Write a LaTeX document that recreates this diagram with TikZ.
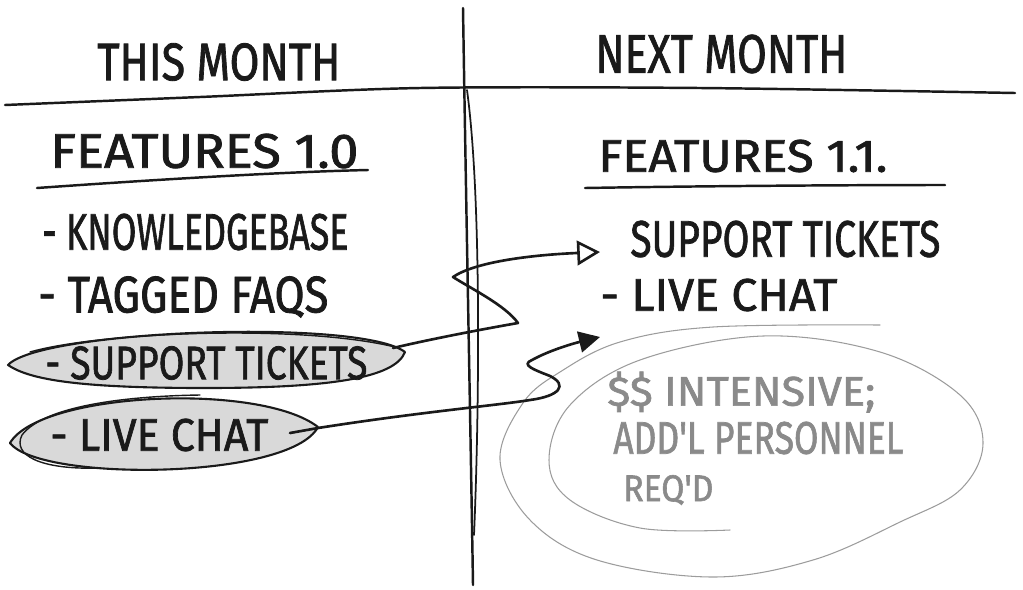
\documentclass[tikz,border=0pt]{standalone}
\usepackage{fontspec}
\usepackage{graphicx}
\usetikzlibrary{arrows.meta}
\newfontfamily\handfont[FakeBold=1.6]{Fira Sans}
\newlength\pxu \setlength\pxu{0.02cm}
% lettering squeezed to a given width and cap height (in px units)
\newcommand\hand[3]{\resizebox{#1\pxu}{#2\pxu}{\handfont #3}}
\definecolor{ink}{HTML}{1A1A1A}
\definecolor{pencil}{HTML}{8A8A8A}
\definecolor{shade}{HTML}{D9D9D9}
\begin{document}
\begin{tikzpicture}[x=0.02cm,y=-0.02cm,
  txt/.style={anchor=west,inner sep=0pt,text=ink},
  note/.style={anchor=west,inner sep=0pt,text=pencil},
  pen/.style={draw=ink,line width=1.5pt,line cap=round,line join=round},
  rule/.style={draw=ink,line width=1.4pt,line cap=round},
  bubble/.style={draw=ink,line width=1.2pt,fill=shade,line join=round},
  sketch/.style={draw=ink,line width=0.8pt,line cap=round},
  faint/.style={draw=pencil!85,line width=0.6pt,line cap=round},
  openhead/.style={-{Triangle[open,length=13pt,width=14pt]}},
  fullhead/.style={-{Triangle[length=12pt,width=12pt]}}]
\useasboundingbox (0,0) rectangle (1023,589);

% column divider and header rule
\draw[rule] (463,8) .. controls (466,200) and (470,400) .. (473,585);
\draw[rule,line width=1pt] (467,90) .. controls (482,200) and (479,420) .. (474,535);
\draw[rule] plot[smooth] coordinates {(5,105) (200,97) (420,88) (700,88) (1015,93)};

% column headings
\node[txt] (this) at (97,62) {\hand{243}{37}{THIS MONTH}};
\node[txt] (next) at (595,54) {\hand{252}{38}{NEXT MONTH}};

% feature list headings with underlines
\node[txt] (f10) at (50,151) {\hand{308}{34}{FEATURES 1.0}};
\node[txt] (f11) at (598,156) {\hand{289}{32}{FEATURES 1.1.}};
\draw[rule] (37,188) .. controls (150,180) and (280,172) .. (368,170);
\draw[rule] (585,188) .. controls (700,186) and (850,185) .. (945,185);

% highlighted items
\path[bubble] (8,365) .. controls (40,330) and (360,318) .. (405,352)
              .. controls (395,378) and (330,388) .. (205,388)
              .. controls (80,388) and (30,380) .. cycle;
\draw[sketch] (30,352) .. controls (100,332) and (300,324) .. (395,347);
\path[bubble] (10,443) .. controls (40,392) and (260,382) .. (318,427)
              .. controls (290,480) and (40,482) .. cycle;
\draw[sketch] (100,468) .. controls (40,470) and (12,455) .. (22,435)
              .. controls (45,405) and (130,396) .. (200,395);

% this month's list
\node[txt] (kb) at (42,232) {\hand{306}{36}{- KNOWLEDGEBASE}};
\node[txt] (faq) at (38,297) {\hand{290}{36}{- TAGGED FAQS}};
\node[txt] (st1) at (45,363) {\hand{322}{33}{- SUPPORT TICKETS}};
\node[txt] (lc1) at (50,435) {\hand{218}{32}{- LIVE CHAT}};

% next month's list
\node[txt] (st2) at (630,239) {\hand{310}{36}{SUPPORT TICKETS}};
\node[txt] (lc2) at (600,295) {\hand{237}{32}{- LIVE CHAT}};

% pencil note
\node[note] (n1) at (607,392) {\hand{268}{34}{\$\$ INTENSIVE;}};
\node[note] (n2) at (613,438) {\hand{290}{32}{ADD'L PERSONNEL}};
\node[note] (n3) at (623,490) {\hand{90}{26}{REQ'D}};
\draw[faint] plot[smooth,tension=0.6] coordinates {
  (730,530) (640,528) (570,500) (549,460) (570,405) (640,360) (763,336)
  (880,352) (960,395) (983,443) (960,490) (900,522) (813,560) (713,577)
  (597,560) (530,520) (500,460) (523,403) (560,372) (620,342) (713,327) (880,325)};

% moves from this month to next month
\coordinate (s1) at (393,348);
\coordinate (t1) at ([xshift=-30\pxu,yshift=-13\pxu]st2.west);
\draw[pen,openhead] (s1) .. controls (440,337) and (495,327) .. (518,323)
   .. controls (505,305) and (470,288) .. (453,277)
   .. controls (475,262) and (530,255) .. (t1);
\coordinate (s2) at (290,433);
\coordinate (t2) at (600,337);
\draw[pen,fullhead] (s2) -- (318,428) .. controls (420,412) and (500,405) .. (530,400)
   .. controls (560,396) and (568,385) .. (550,376)
   .. controls (535,370) and (520,365) .. (532,360)
   .. controls (550,350) and (575,343) .. (t2);
\end{tikzpicture}
\end{document}
